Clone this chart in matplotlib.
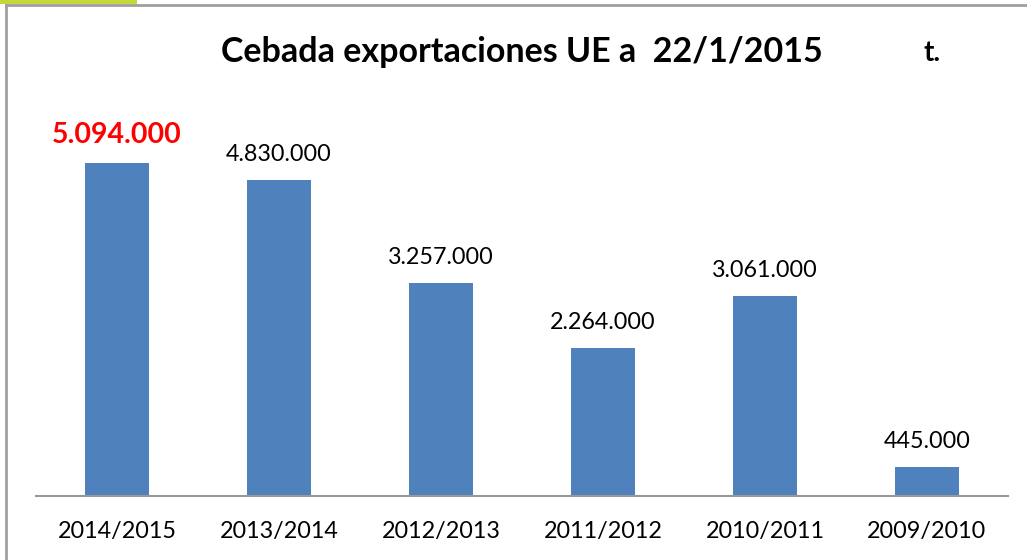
import matplotlib.pyplot as plt
from matplotlib.patches import Rectangle
from matplotlib.lines import Line2D

campanas = ['2014/2015', '2013/2014', '2012/2013', '2011/2012', '2010/2011', '2009/2010']
toneladas = [5094000, 4830000, 3257000, 2264000, 3061000, 445000]
etiquetas = ['5.094.000', '4.830.000', '3.257.000', '2.264.000', '3.061.000', '445.000']

plt.rcParams['font.family'] = ['Lato', 'DejaVu Sans']

fig = plt.figure(figsize=(10.27, 5.6), dpi=100)
W, H = 1027, 560

# plot area in pixel coords: x 36..1008, y 100..496 (from top)
ax = fig.add_axes([36 / W, 1 - 496 / H, (1008 - 36) / W, (496 - 100) / H])
x = list(range(len(campanas)))
ax.bar(x, toneladas, width=0.4, color='#4f81bd', zorder=2)
ax.set_xlim(-0.5, len(campanas) - 0.5)
ax.set_ylim(0, 6.055e6)

for i, (v, lab) in enumerate(zip(toneladas, etiquetas)):
    if i == 0:
        ax.annotate(lab, (i, v), xytext=(0, 14), textcoords='offset points',
                    ha='center', va='baseline', fontsize=20.5, fontweight='bold', color='#ff0000')
    else:
        ax.annotate(lab, (i, v), xytext=(0, 13.5), textcoords='offset points',
                    ha='center', va='baseline', fontsize=16.8, color='black')

ax.set_xticks(x)
ax.set_xticklabels(campanas, fontsize=16.8)
ax.tick_params(axis='x', length=0, pad=18)
ax.set_yticks([])
for s in ['top', 'right', 'left']:
    ax.spines[s].set_visible(False)
ax.spines['bottom'].set_color('#999999')
ax.spines['bottom'].set_linewidth(1.5)

fig.text(522 / W, 1 - 62 / H, 'Cebada exportaciones UE a  22/1/2015',
         ha='center', va='baseline', fontsize=24.5, fontweight='bold')
fig.text(932 / W, 1 - 61 / H, 't.', ha='center', va='baseline', fontsize=20, fontweight='bold')

# outer frame (top and left)
fig.add_artist(Line2D([6 / W, 6 / W], [0, 1 - 5 / H], color='#a0a0a0', linewidth=2))
fig.add_artist(Line2D([6 / W, 1], [1 - 5 / H, 1 - 5 / H], color='#a0a0a0', linewidth=2))
# logo strip
fig.add_artist(Rectangle((0, 1 - 4 / H), 137 / W, 4 / H, transform=fig.transFigure,
                         color='#c5d83a', linewidth=0))

fig.savefig('out.png', dpi=100)
